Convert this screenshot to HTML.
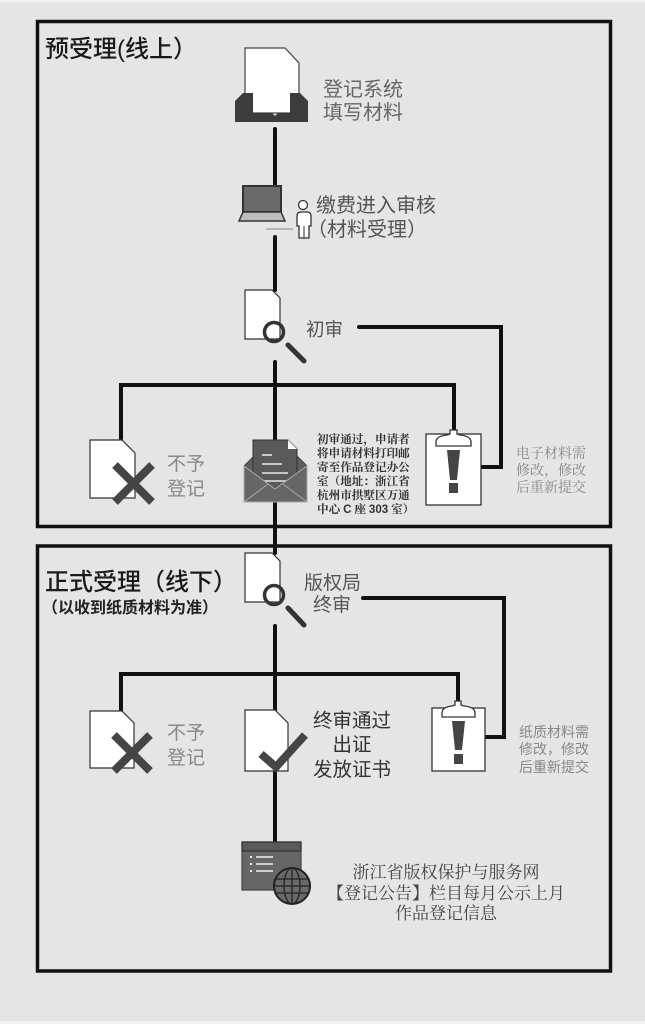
<!DOCTYPE html>
<html><head><meta charset="utf-8"><style>
html,body{margin:0;padding:0;background:#e5e5e5;}
svg{display:block;}
.s{font-family:"Liberation Sans","Noto Sans CJK SC",sans-serif;}
.r{font-family:"Liberation Serif","Noto Serif CJK SC",serif;}
</style></head><body>
<svg width="645" height="1024" viewBox="0 0 645 1024" xmlns="http://www.w3.org/2000/svg">
<rect x="0" y="0" width="645" height="1024" fill="#e5e5e5"/>
<rect x="0" y="0" width="645" height="2" fill="#f2f2f2"/>
<rect x="0" y="1021" width="645" height="3" fill="#f2f2f2"/>

<!-- boxes -->
<rect x="37.5" y="21.5" width="573" height="505" fill="none" stroke="#111" stroke-width="3.5"/>
<rect x="37.5" y="546" width="573" height="425" fill="none" stroke="#111" stroke-width="3.5"/>

<!-- connectors -->
<g stroke="#111" stroke-width="4" fill="none" stroke-linecap="round" stroke-linejoin="miter">
<line x1="275" y1="129" x2="275" y2="187"/>
<line x1="275" y1="237" x2="275" y2="290"/>
<line x1="275" y1="362" x2="275" y2="442"/>
<polyline points="121,440 121,385 454,385 454,433"/>
<polyline points="359,327 501,327 501,467 480,467"/>
<line x1="275" y1="500" x2="275" y2="553"/>
<polyline points="363,598 504,598 504,737 486,737"/>
<line x1="275" y1="626" x2="275" y2="712"/>
<polyline points="121,711 121,674 458,674 458,705"/>
<line x1="275" y1="770" x2="275" y2="843"/>
</g>

<!-- titles -->
<text x="45" y="57" class="s" font-size="24" font-weight="500" fill="#1a1a1a">预受理(线上）</text>
<text x="45" y="590" class="s" font-size="24" font-weight="500" fill="#1a1a1a">正式受理（线下）</text>
<text x="42" y="613" class="s" font-size="16" font-weight="700" fill="#222">（以收到纸质材料为准）</text>

<!-- inbox icon -->
<polygon points="245,48 285,48 299,63 299,113 245,113" fill="#fff" stroke="#444" stroke-width="1.2"/>
<path d="M235,101 L243,93 L253,93 L253,113 L272,113 L275,116 L278,113 L290,113 L290,93 L300,93 L308,101 L308,122 L235,122 Z" fill="#3c3c3c"/>
<text x="323" y="96" class="s" font-size="20" fill="#666">登记系统</text>
<text x="323" y="119" class="s" font-size="20" fill="#666">填写材料</text>

<!-- laptop + person -->
<rect x="243" y="186" width="38" height="26" fill="#6a6a6a" stroke="#333" stroke-width="2"/>
<polygon points="243,212 281,212 285,221 239,221" fill="#bdbdbd" stroke="#333" stroke-width="1.5"/>
<line x1="266" y1="229" x2="293" y2="229" stroke="#888" stroke-width="1"/>
<circle cx="303" cy="205" r="4.5" fill="#fff" stroke="#333" stroke-width="1.3"/>
<path d="M297,226 L297,216 Q297,212 301,212 L307,212 Q311,212 311,216 L311,226 L309,226 L309,238 L299,238 L299,226 Z" fill="#fff" stroke="#333" stroke-width="1.3"/>
<line x1="304" y1="226" x2="304" y2="238" stroke="#333" stroke-width="1"/>
<text x="316" y="212" class="s" font-size="20" fill="#555">缴费进入审核</text>
<text x="307" y="236" class="s" font-size="20" fill="#555">（材料受理）</text>

<!-- doc + magnifier 1 -->
<polygon points="245,290 272,290 280,298 280,339 245,339" fill="#fff" stroke="#333" stroke-width="1.2"/>
<circle cx="274" cy="332" r="9.5" fill="none" stroke="#333" stroke-width="3.5"/>
<line x1="288" y1="345" x2="304" y2="361" stroke="#333" stroke-width="5" stroke-linecap="round"/>
<text x="306" y="336" class="s" font-size="18.5" fill="#555">初审</text>

<!-- reject doc 1 -->
<polygon points="90,440 122,440 135,453 135,498 90,498" fill="#fff" stroke="#333" stroke-width="1.2"/>
<g stroke="#454545" stroke-width="8"><line x1="115" y1="465" x2="152" y2="502"/><line x1="152" y1="465" x2="115" y2="502"/></g>
<text x="167" y="470" class="s" font-size="19" fill="#888">不予</text>
<text x="167" y="495" class="s" font-size="19" fill="#888">登记</text>

<!-- envelope -->
<polygon points="244,466 254,456 297,456 307,466 307,502 244,502" fill="#5e5e5e" stroke="#444" stroke-width="1"/>
<polygon points="253,440 288,440 297,449 297,488 253,488" fill="#5a5a5a" stroke="#333" stroke-width="1"/>
<polygon points="288,440 297,449 288,449" fill="#fff"/>
<g stroke="#e8e8e8" stroke-width="1.6"><line x1="262" y1="455" x2="272" y2="455"/><line x1="262" y1="464" x2="282" y2="464"/><line x1="262" y1="473" x2="288" y2="473"/><line x1="262" y1="481" x2="288" y2="481"/></g>
<polygon points="244,466 275,489 307,466 307,502 244,502" fill="#666" stroke="#aaa" stroke-width="1"/>
<g stroke="#aaa" stroke-width="1"><line x1="244" y1="502" x2="268" y2="484"/><line x1="307" y1="502" x2="283" y2="484"/></g>
<g class="r" font-size="11.6" font-weight="700" fill="#333">
<text x="317" y="443">初审通过，申请者</text>
<text x="317" y="457">将申请材料打印邮</text>
<text x="317" y="471">寄至作品登记办公</text>
<text x="317" y="485">室（地址：浙江省</text>
<text x="317" y="499">杭州市拱墅区万通</text>
<text x="317" y="513">中心 <tspan class="s" font-weight="700">C</tspan> 座 <tspan class="s" font-weight="700">303</tspan> 室）</text>
</g>

<!-- clipboard 1 -->
<rect x="426" y="434" width="55" height="71" fill="#fff" stroke="#333" stroke-width="1.3"/>
<path d="M436,446 L436,442 Q436,436 447,435 L450,434 L450,430 L457,430 L457,434 L460,435 Q471,436 471,442 L471,446 Z" fill="#fff" stroke="#333" stroke-width="1.3"/>
<polygon points="447,450 460,450 457,480 450,480" fill="#454545"/>
<rect x="449" y="483" width="9" height="10" fill="#454545"/>
<g class="r" font-size="14" fill="#888">
<text x="516" y="458">电子材料需</text>
<text x="516" y="475">修改，修改</text>
<text x="516" y="492">后重新提交</text>
</g>

<!-- doc + magnifier 2 -->
<polygon points="245,553 272,553 280,561 280,602 245,602" fill="#fff" stroke="#333" stroke-width="1.2"/>
<circle cx="274" cy="595" r="9.5" fill="none" stroke="#333" stroke-width="3.5"/>
<line x1="288" y1="608" x2="304" y2="625" stroke="#333" stroke-width="5" stroke-linecap="round"/>
<text x="304" y="589" class="s" font-size="19" fill="#555">版权局</text>
<text x="313" y="611" class="s" font-size="19" fill="#555">终审</text>

<!-- reject doc 2 -->
<polygon points="90,711 122,711 134,723 134,768 90,768" fill="#fff" stroke="#333" stroke-width="1.2"/>
<g stroke="#454545" stroke-width="8"><line x1="114" y1="735" x2="150" y2="771"/><line x1="150" y1="735" x2="114" y2="771"/></g>
<text x="167" y="739" class="s" font-size="19" fill="#888">不予</text>
<text x="167" y="764" class="s" font-size="19" fill="#888">登记</text>

<!-- approve doc -->
<polygon points="245,710 275,710 288,723 288,771 245,771" fill="#fff" stroke="#333" stroke-width="1.2"/>
<polyline points="261,754 276,767 305,735" fill="none" stroke="#454545" stroke-width="8"/>
<g class="s" font-size="19.5" fill="#333" text-anchor="middle">
<text x="352" y="727">终审通过</text>
<text x="352" y="751">出证</text>
<text x="352" y="776">发放证书</text>
</g>

<!-- clipboard 2 -->
<rect x="432" y="708" width="53" height="63" fill="#fff" stroke="#333" stroke-width="1.3"/>
<path d="M442,717 L442,713 Q442,707 452,706 L455,705 L455,701 L461,701 L461,705 L464,706 Q475,707 475,713 L475,717 Z" fill="#fff" stroke="#333" stroke-width="1.3"/>
<polygon points="452,721 465,721 462,750 455,750" fill="#454545"/>
<rect x="454" y="754" width="9" height="10" fill="#454545"/>
<g class="s" font-size="14" fill="#888">
<text x="519" y="737">纸质材料需</text>
<text x="519" y="754">修改，修改</text>
<text x="519" y="772">后重新提交</text>
</g>

<!-- web icon -->
<rect x="242" y="842" width="59" height="48" fill="#666" stroke="#444" stroke-width="1.2"/>
<rect x="242" y="842" width="59" height="9" fill="#5a5a5a" stroke="#333" stroke-width="1.2"/>
<g fill="#eee"><rect x="250" y="856" width="2" height="2"/><rect x="250" y="863" width="2" height="2"/><rect x="250" y="870" width="2" height="2"/></g>
<g stroke="#eee" stroke-width="1.6"><line x1="256" y1="857" x2="273" y2="857"/><line x1="256" y1="864" x2="273" y2="864"/><line x1="256" y1="871" x2="273" y2="871"/></g>
<circle cx="292" cy="886" r="18" fill="#6a6a6a" stroke="#222" stroke-width="2"/>
<g fill="none" stroke="#222" stroke-width="1.3">
<ellipse cx="292" cy="886" rx="8" ry="18"/>
<line x1="292" y1="868" x2="292" y2="904"/>
<line x1="275" y1="879" x2="309" y2="879"/>
<line x1="274" y1="886" x2="310" y2="886"/>
<line x1="275" y1="893" x2="309" y2="893"/>
</g>
<g class="r" font-size="17" fill="#444" text-anchor="middle">
<text x="446" y="878">浙江省版权保护与服务网</text>
<text x="446" y="899">【登记公告】栏目每月公示上月</text>
<text x="446" y="919">作品登记信息</text>
</g>
</svg>
</body></html>
